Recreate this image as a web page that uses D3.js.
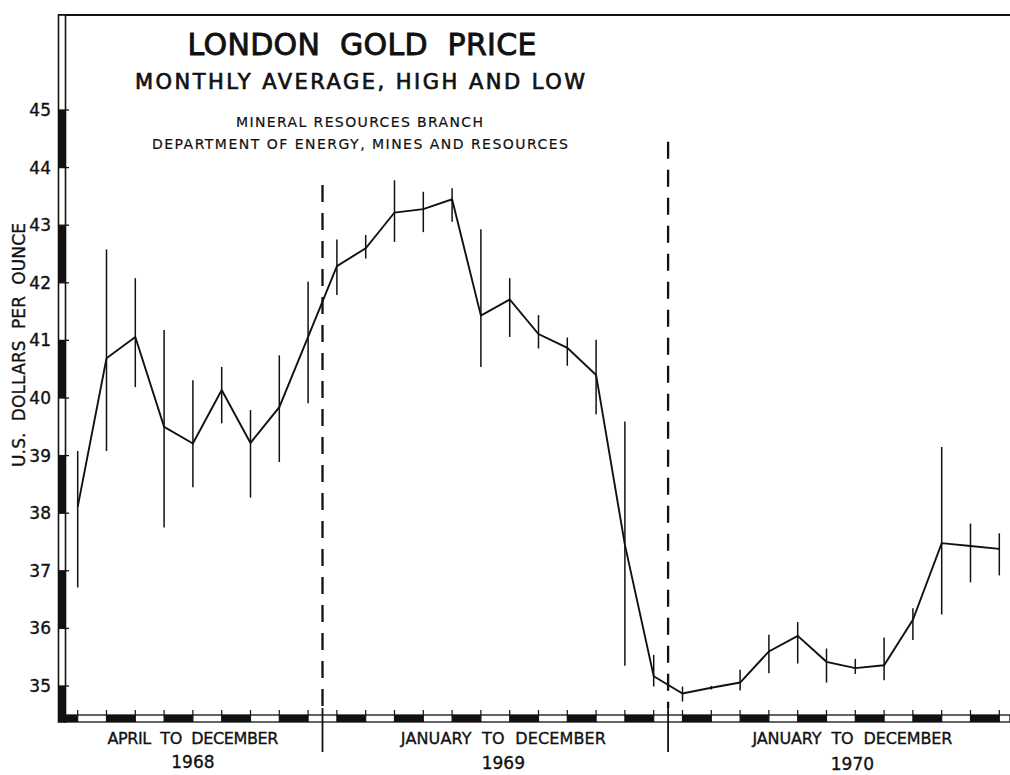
<!DOCTYPE html>
<html>
<head>
<meta charset="utf-8">
<script src="https://cdn.jsdelivr.net/npm/d3@7/dist/d3.min.js"></script>
<style>
  body { margin: 0; background: #fff; }
  svg { display: block; }
  text { font-family: "DejaVu Sans", "Liberation Sans", sans-serif; fill: #111; stroke: #111; stroke-width: 0.35px; }
</style>
</head>
<body>
<div id="chart"></div>
<script>
// chart size
let svgWidth = 1010;
let svgHeight = 775;

// months, April 1968 to December 1970
let months = ["APR 1968","MAY 1968","JUN 1968","JUL 1968","AUG 1968","SEP 1968","OCT 1968","NOV 1968","DEC 1968",
  "JAN 1969","FEB 1969","MAR 1969","APR 1969","MAY 1969","JUN 1969","JUL 1969","AUG 1969","SEP 1969","OCT 1969","NOV 1969","DEC 1969",
  "JAN 1970","FEB 1970","MAR 1970","APR 1970","MAY 1970","JUN 1970","JUL 1970","AUG 1970","SEP 1970","OCT 1970","NOV 1970","DEC 1970"];

// monthly average, high and low (US$ per ounce)
let avgPrice = [38.11, 40.69, 41.06, 39.50, 39.21, 40.14, 39.22, 39.84, 41.06,
  42.29, 42.60, 43.22, 43.28, 43.45, 41.43, 41.71, 41.11, 40.87, 40.40, 37.45, 35.17,
  34.87, 34.97, 35.06, 35.60, 35.87, 35.42, 35.31, 35.36, 36.15, 37.48, 37.43, 37.38];
let highPrice = [39.08, 42.58, 42.08, 41.18, 40.31, 40.54, 39.79, 40.74, 42.02,
  42.75, 42.83, 43.78, 43.58, 43.64, 42.93, 42.08, 41.44, 41.05, 41.01, 39.59, 35.54,
  34.99, 35.00, 35.28, 35.89, 36.11, 35.65, 35.47, 35.84, 36.35, 39.15, 37.82, 37.65];
let lowPrice = [36.71, 39.08, 40.19, 37.75, 38.45, 39.56, 38.27, 38.89, 39.91,
  41.79, 42.42, 42.71, 42.88, 43.06, 40.54, 41.06, 40.86, 40.56, 39.72, 35.35, 34.99,
  34.73, 34.94, 34.92, 35.22, 35.39, 35.06, 35.21, 35.10, 35.80, 36.24, 36.80, 36.92];

// y axis tick values
let yTicks = [35, 36, 37, 38, 39, 40, 41, 42, 43, 44, 45];

// period labels under the axis
let periodNames = ["APRIL  TO  DECEMBER", "JANUARY  TO  DECEMBER", "JANUARY  TO  DECEMBER"];
let periodYears = ["1968", "1969", "1970"];

let data = months.map((m, i) => ({ month: m, i: i, avg: avgPrice[i], high: highPrice[i], low: lowPrice[i] }));

// layout
let axisLeftX = 58, barW = 7;
let frameTop = 15;
let barTop = 715, barBottom = 722;

let svg = d3.select('#chart').append('svg')
  .attr('width', svgWidth)
  .attr('height', svgHeight);

// scales
let xScale = d3.scaleLinear().domain([0, 32]).range([77.7, 999.3]);
let yScale = d3.scaleLinear().domain([35, 45]).range([686, 110]);

// top border
svg.append('line')
  .attr('x1', axisLeftX).attr('x2', svgWidth)
  .attr('y1', frameTop).attr('y2', frameTop)
  .attr('stroke', '#111').attr('stroke-width', 2.2);

// left axis bar: alternating black/white
svg.append('rect')
  .attr('x', axisLeftX + 0.5).attr('y', frameTop)
  .attr('width', barW).attr('height', barBottom - frameTop)
  .attr('fill', '#fff').attr('stroke', '#111').attr('stroke-width', 1.6);
let blackBands = [[44, 45], [42, 43], [40, 41], [38, 39], [36, 37]];
svg.selectAll('.yband').data(blackBands).enter().append('rect')
  .attr('x', axisLeftX + 0.5).attr('width', barW)
  .attr('y', d => yScale(d[1]))
  .attr('height', d => yScale(d[0]) - yScale(d[1]))
  .attr('fill', '#111');
svg.append('rect')
  .attr('x', axisLeftX + 0.5).attr('width', barW)
  .attr('y', yScale(35)).attr('height', barBottom - yScale(35))
  .attr('fill', '#111');

// y ticks and labels
let yAxis = d3.axisLeft(yScale).tickValues(yTicks).tickSize(0).tickPadding(7);
let yG = svg.append('g').attr('transform', `translate(${axisLeftX},0)`).call(yAxis);
yG.select('.domain').remove();
yG.selectAll('text')
  .attr('font-size', 17)
  .attr('font-family', '"DejaVu Sans", sans-serif')
  .attr('fill', '#111');
svg.selectAll('.ytick').data(yTicks).enter().append('line')
  .attr('x1', axisLeftX).attr('x2', axisLeftX + barW + 4)
  .attr('y1', d => yScale(d)).attr('y2', d => yScale(d))
  .attr('stroke', '#111').attr('stroke-width', 1.3);

// bottom axis bar
let barStart = axisLeftX + barW;
svg.append('rect')
  .attr('x', barStart).attr('y', barTop)
  .attr('width', svgWidth - barStart).attr('height', barBottom - barTop)
  .attr('fill', '#fff').attr('stroke', '#111').attr('stroke-width', 1.3);
svg.append('rect')
  .attr('x', barStart).attr('y', barTop)
  .attr('width', xScale(0) - barStart).attr('height', barBottom - barTop)
  .attr('fill', '#111');
svg.selectAll('.xband').data(data.filter(d => d.i % 2 === 1)).enter().append('rect')
  .attr('x', d => xScale(d.i)).attr('y', barTop)
  .attr('width', d => xScale(d.i + 1) - xScale(d.i)).attr('height', barBottom - barTop)
  .attr('fill', '#111');
svg.selectAll('.xtick').data(data).enter().append('line')
  .attr('x1', d => xScale(d.i)).attr('x2', d => xScale(d.i))
  .attr('y1', barTop - 5).attr('y2', barBottom)
  .attr('stroke', '#111').attr('stroke-width', 1.2);

// year dividers
let dividers = [{ at: 8.5, top: 43.7 }, { at: 20.5, top: 44.45 }];
dividers.forEach(dv => {
  svg.append('line')
    .attr('x1', xScale(dv.at)).attr('x2', xScale(dv.at))
    .attr('y1', yScale(dv.top)).attr('y2', 708)
    .attr('stroke', '#111').attr('stroke-width', 2.3)
    .attr('stroke-dasharray', '17,11');
  svg.append('line')
    .attr('x1', xScale(dv.at)).attr('x2', xScale(dv.at))
    .attr('y1', 708).attr('y2', 752)
    .attr('stroke', '#111').attr('stroke-width', 1.8);
});

// high-low bars
svg.selectAll('.hilo').data(data).enter().append('line')
  .attr('x1', d => xScale(d.i)).attr('x2', d => xScale(d.i))
  .attr('y1', d => yScale(d.high)).attr('y2', d => yScale(d.low))
  .attr('stroke', '#111').attr('stroke-width', 1.5);

// monthly average line
let line = d3.line().x(d => xScale(d.i)).y(d => yScale(d.avg));
svg.append('path')
  .datum(data)
  .attr('d', line)
  .attr('fill', 'none')
  .attr('stroke', '#111')
  .attr('stroke-width', 1.9)
  .attr('stroke-linejoin', 'miter');

// titles
function addText(txt, x, y, size, len, sw) {
  svg.append('text')
    .attr('x', x).attr('y', y)
    .attr('font-size', size)
    .attr('text-anchor', 'middle')
    .attr('textLength', len)
    .attr('lengthAdjust', 'spacing')
    .style('white-space', 'pre')
    .style('stroke-width', sw + 'px')
    .text(txt);
}
addText('LONDON  GOLD  PRICE', 362, 55, 30, 349, 0.9);
addText('MONTHLY AVERAGE, HIGH AND LOW', 360, 89, 21, 450, 0.7);
addText('MINERAL RESOURCES BRANCH', 359.5, 127, 14, 247, 0.2);
addText('DEPARTMENT OF ENERGY, MINES AND RESOURCES', 360, 149, 14, 416, 0.2);

// y axis title
svg.append('text')
  .attr('transform', 'translate(25,345) rotate(-90)')
  .attr('font-size', 17)
  .attr('text-anchor', 'middle')
  .attr('textLength', 244)
  .attr('lengthAdjust', 'spacing')
  .style('white-space', 'pre')
  .text('U.S.  DOLLARS  PER  OUNCE');

// period labels
let periodCenters = [4, 14.78, 26.9];
let periodWidths = [171, 205, 200];
let yearBase = [768, 769, 770];
periodNames.forEach((p, k) => {
  svg.append('text')
    .attr('x', xScale(periodCenters[k])).attr('y', 744)
    .attr('font-size', 16)
    .attr('text-anchor', 'middle')
    .attr('textLength', periodWidths[k])
    .attr('lengthAdjust', 'spacing')
    .style('white-space', 'pre')
    .text(p);
  svg.append('text')
    .attr('x', xScale(periodCenters[k])).attr('y', yearBase[k])
    .attr('font-size', 17)
    .attr('text-anchor', 'middle')
    .text(periodYears[k]);
});
</script>
</body>
</html>
